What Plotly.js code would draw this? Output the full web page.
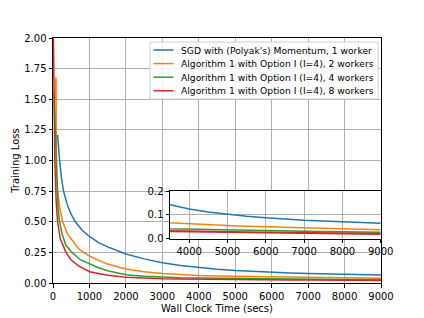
<!DOCTYPE html>
<html>
<head>
<meta charset="utf-8">
<script src="https://cdn.plot.ly/plotly-3.0.1.min.js"></script>
<style>html,body{margin:0;padding:0;background:#fff}#chart{width:424px;height:318px}</style>
</head>
<body>
<div id="chart"></div>
<script>
// ---- data ----
var seriesNames = [
  "SGD with (Polyak's) Momentum, 1 worker",
  "Algorithm 1 with Option I (I=4), 2 workers",
  "Algorithm 1 with Option I (I=4), 4 workers",
  "Algorithm 1 with Option I (I=4), 8 workers"
];
var seriesColors = ["#1f77b4", "#ff7f0e", "#2ca02c", "#d62728"];

var timeSgd1 = [126, 150, 181, 230, 290, 400, 500, 611, 800, 1000, 1250, 1500, 2000, 2500, 3000, 3500, 4000, 4500, 5000, 5500, 6000, 6500, 7000, 7500, 8000, 8500, 9000];
var lossSgd1 = [1.21, 1.10, 1.00, 0.86, 0.75, 0.63, 0.56, 0.50, 0.43, 0.38, 0.33, 0.295, 0.237, 0.197, 0.166, 0.142, 0.125, 0.112, 0.102, 0.094, 0.088, 0.082, 0.077, 0.074, 0.071, 0.067, 0.065];

var timeAlg2 = [40, 82, 92, 126, 180, 263, 400, 500, 700, 840, 1000, 1250, 1500, 2000, 2500, 3000, 3500, 4000, 4500, 5000, 5500, 6000, 6500, 7000, 7500, 8000, 8500, 9000];
var lossAlg2 = [1.50, 1.68, 0.98, 0.75, 0.62, 0.50, 0.40, 0.36, 0.28, 0.25, 0.22, 0.185, 0.155, 0.115, 0.092, 0.077, 0.067, 0.062, 0.058, 0.055, 0.052, 0.050, 0.047, 0.045, 0.043, 0.042, 0.040, 0.038];

var timeAlg4 = [30, 63, 100, 140, 181, 250, 350, 520, 750, 1000, 1250, 1500, 2000, 2500, 3000, 3500, 4000, 4500, 5000, 5500, 6000, 6500, 7000, 7500, 8000, 8500, 9000];
var lossAlg4 = [1.55, 1.25, 0.80, 0.60, 0.50, 0.40, 0.31, 0.25, 0.19, 0.155, 0.125, 0.100, 0.068, 0.055, 0.047, 0.042, 0.040, 0.038, 0.037, 0.035, 0.034, 0.032, 0.031, 0.030, 0.029, 0.028, 0.027];

var timeAlg8 = [0, 20, 50, 90, 126, 200, 356, 493, 700, 1000, 1250, 1500, 2000, 2500, 3000, 3500, 4000, 4500, 5000, 5500, 6000, 6500, 7000, 7500, 8000, 8500, 9000];
var lossAlg8 = [2.30, 1.50, 1.00, 0.65, 0.50, 0.36, 0.25, 0.19, 0.14, 0.092, 0.076, 0.063, 0.046, 0.038, 0.034, 0.032, 0.030, 0.029, 0.028, 0.027, 0.026, 0.025, 0.024, 0.023, 0.022, 0.021, 0.020];

var mainXTicks = [0, 1000, 2000, 3000, 4000, 5000, 6000, 7000, 8000, 9000];
var mainYTicks = [0, 0.25, 0.5, 0.75, 1.0, 1.25, 1.5, 1.75, 2.0];
var insetXTicks = [4000, 5000, 6000, 7000, 8000, 9000];
var insetYTicks = [0, 0.1, 0.2];

var xTitle = "Wall Clock Time (secs)";
var yTitle = "Training Loss";

// ---- build ----
var times = [timeSgd1, timeAlg2, timeAlg4, timeAlg8];
var losses = [lossSgd1, lossAlg2, lossAlg4, lossAlg8];
var traces = [];
for (var i = 0; i < 4; i++) {
  traces.push({x: times[i], y: losses[i], type: 'scatter', mode: 'lines', name: seriesNames[i],
    line: {color: seriesColors[i], width: 1.5}, xaxis: 'x', yaxis: 'y', showlegend: false});
}
for (var j = 0; j < 4; j++) {
  traces.push({x: times[j], y: losses[j], type: 'scatter', mode: 'lines', name: seriesNames[j],
    line: {color: seriesColors[j], width: j === 3 ? 2.2 : 1.5}, xaxis: 'x2', yaxis: 'y2', showlegend: false});
}

var font = {family: 'DejaVu Sans', size: 10, color: '#000'};
var legFont = {family: 'DejaVu Sans', size: 9.2, color: '#000'};
var axisCommon = {showline: true, mirror: true, linecolor: '#000', linewidth: 1,
  showgrid: true, gridcolor: '#b0b0b0', gridwidth: 1, zeroline: false,
  ticks: 'outside', ticklen: 3.5, tickwidth: 1, tickcolor: '#000', tickfont: font, tickmode: 'array'};

// custom legend (matplotlib-style compact box)
var shapes = [];
var annotations = [];
var legLeft = 150, legTop = 42, legRight = 378, legBottom = 99;
var plotL = 53, plotR = 381, plotT = 38, plotB = 283;
function px(xp) { return (xp - plotL) / (plotR - plotL); }
function py(yp) { return (plotB - yp) / (plotB - plotT); }
shapes.push({type: 'rect', xref: 'paper', yref: 'paper', x0: px(legLeft), x1: px(legRight), y0: py(legBottom), y1: py(legTop),
  fillcolor: 'rgba(255,255,255,0.85)', line: {color: '#d0d0d0', width: 1}, layer: 'above'});
for (var k = 0; k < 4; k++) {
  var yy = 50 + k * 13.6;
  shapes.push({type: 'line', xref: 'paper', yref: 'paper', x0: px(153.5), x1: px(173.5), y0: py(yy), y1: py(yy),
    line: {color: seriesColors[k], width: 1.5}, layer: 'above'});
  annotations.push({xref: 'paper', yref: 'paper', x: px(179), y: py(yy), xanchor: 'left', yanchor: 'middle',
    text: seriesNames[k], showarrow: false, font: legFont});
}

var layout = {
  width: 424, height: 318,
  margin: {l: plotL, r: 424 - plotR, t: plotT, b: 318 - plotB, pad: 0},
  paper_bgcolor: '#fff', plot_bgcolor: '#fff',
  showlegend: false,
  font: font,
  xaxis: Object.assign({}, axisCommon, {range: [0, 9000], tickvals: mainXTicks, ticktext: mainXTicks.map(String),
    title: {text: xTitle, font: font, standoff: 4}, domain: [0, 1], anchor: 'y'}),
  yaxis: Object.assign({}, axisCommon, {range: [0, 2], tickvals: mainYTicks, ticktext: mainYTicks.map(function(v){return v.toFixed(2);}),
    title: {text: yTitle, font: font, standoff: 2}, domain: [0, 1], anchor: 'x'}),
  xaxis2: Object.assign({}, axisCommon, {range: [3500, 9000], tickvals: insetXTicks, ticktext: insetXTicks.map(String),
    domain: [px(170), px(380.7)], anchor: 'y2'}),
  yaxis2: Object.assign({}, axisCommon, {range: [0, 0.2], tickvals: insetYTicks, ticktext: insetYTicks.map(function(v){return v.toFixed(1);}),
    domain: [py(238.7), py(191)], anchor: 'x2'}),
  shapes: shapes,
  annotations: annotations
};

Plotly.newPlot('chart', traces, layout, {staticPlot: true, displayModeBar: false});
</script>
</body>
</html>
